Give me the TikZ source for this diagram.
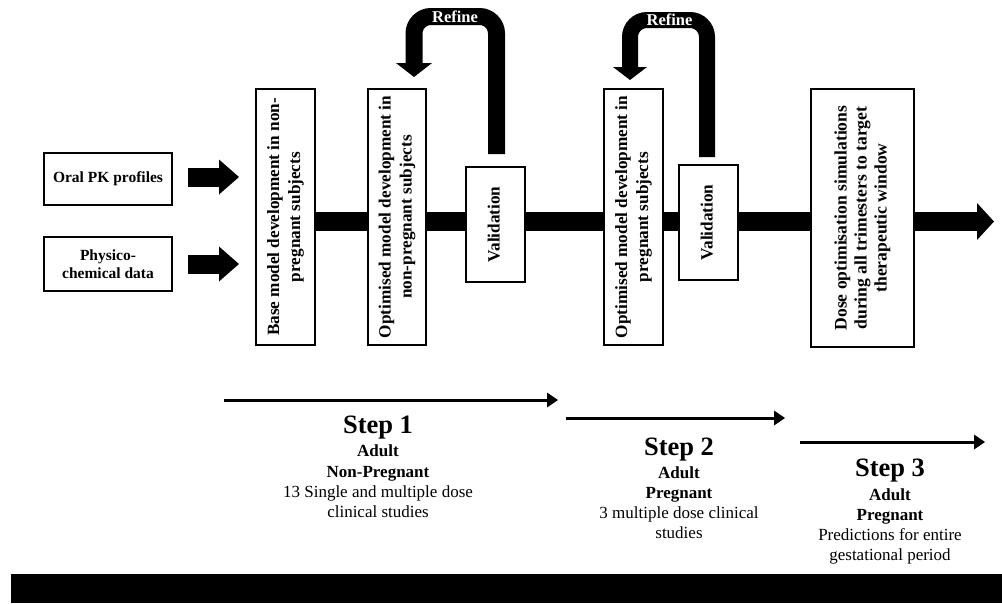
\documentclass[tikz,border=0pt]{standalone}
\usepackage{fontspec}
\setmainfont{Liberation Serif}
\usepackage{graphicx}
\usetikzlibrary{arrows.meta,calc}
\newcommand{\vlines}[1]{\rotatebox{90}{\begin{tabular}{@{}c@{}}#1\end{tabular}}}
\begin{document}
\begin{tikzpicture}[x=1pt,y=-1pt,
  box/.style={draw=black,line width=2pt,fill=white,inner sep=0pt,align=center,
    font=\fontsize{17.2}{21}\selectfont\bfseries},
  inbox/.style={box,minimum width=128pt,font=\fontsize{15.5}{18.5}\selectfont\bfseries},
  fat/.style={line width=19pt,-{Triangle[length=20pt,width=35pt,line width=0pt]}},
  barseg/.style={line width=19pt},
  barend/.style={line width=19pt,-{Triangle[length=17pt,width=37pt,line width=0pt]}},
  refine/.style={line width=17pt,rounded corners=17pt},
  reftext/.style={text=white,font=\fontsize{16.5}{18}\selectfont\bfseries,inner sep=0pt},
  steparrow/.style={line width=3pt,-{Triangle[length=11pt,width=15pt,line width=0pt]}},
  steptitle/.style={anchor=base,inner sep=0pt,font=\fontsize{26.5}{30}\selectfont\bfseries},
  stepbold/.style={anchor=base,inner sep=0pt,font=\fontsize{17}{20}\selectfont\bfseries},
  stepnorm/.style={anchor=base,inner sep=0pt,font=\fontsize{17}{20}\selectfont}]
\useasboundingbox (0,0) rectangle (1002,603);
\fill[white] (0,0) rectangle (1002,603);

% input boxes
\node[inbox,minimum height=52pt] (oral) at (108,179) {Oral PK profiles};
\node[inbox,minimum height=54pt] (phys) at (108,264) {Physico-\\chemical data};

% main boxes
\node[box,minimum width=59pt,minimum height=256pt] (base) at (285.5,217)
  {\vlines{Base model development in non-\\pregnant subjects}};
\node[box,minimum width=58pt,minimum height=256pt] (opt1) at (397,217)
  {\vlines{Optimised model development in\\non-pregnant subjects}};
\node[box,minimum width=59pt,minimum height=115pt] (val1) at (495.5,224.5)
  {\vlines{Validation}};
\node[box,minimum width=59pt,minimum height=256pt] (opt2) at (633.5,217)
  {\vlines{Optimised model development in\\pregnant subjects}};
\node[box,minimum width=59pt,minimum height=115pt] (val2) at (708.5,222.5)
  {\vlines{Validation}};
\node[box,minimum width=103pt,minimum height=258pt,font=\fontsize{17.6}{20}\selectfont\bfseries] (dose) at (862.5,218)
  {\vlines{Dose optimisation simulations\\during all trimesters to target\\therapeutic window}};

% main bar
\coordinate (bary) at (0,221.5);
\coordinate (barend) at (994,221.5);
\draw[barseg] (base.east |- bary) -- (opt1.west |- bary);
\draw[barseg] (opt1.east |- bary) -- (val1.west |- bary);
\draw[barseg] (val1.east |- bary) -- (opt2.west |- bary);
\draw[barseg] (opt2.east |- bary) -- (val2.west |- bary);
\draw[barseg] (val2.east |- bary) -- (dose.west |- bary);
\draw[barend] (dose.east |- bary) -- (barend);

% input arrows
\draw[fat,shorten <=15pt,shorten >=16pt] ([yshift=2pt]oral.east) -- ([yshift=2pt]oral.east -| base.west);
\draw[fat,shorten <=15pt,shorten >=16pt] (phys.east) -- (phys.east -| base.west);

% refine loops
\coordinate (r1top) at (455,16.5);
\coordinate (r1tip) at (414,77);
\draw[refine,-{Triangle[length=14pt,width=36pt,line width=0pt]}]
  ([xshift=1pt,yshift=12pt]val1.north) |- (r1top) -| (r1tip);
\node[reftext] (ref1) at (r1top) {Refine};

\coordinate (r2top) at (669.5,20);
\coordinate (r2tip) at (630,80);
\draw[refine,line width=16pt,-{Triangle[length=13pt,width=34pt,line width=0pt]}]
  ([xshift=-1.5pt,yshift=7pt]val2.north) |- (r2top) -| (r2tip);
\node[reftext] (ref2) at (r2top) {Refine};

% step arrows
\coordinate (a1s) at (224,400);
\coordinate (a1e) at (558,400);
\coordinate (a2s) at (566,418);
\coordinate (a2e) at (785,418);
\coordinate (a3s) at (800,442);
\coordinate (a3e) at (985,442);
\draw[steparrow] (a1s) -- (a1e);
\draw[steparrow] (a2s) -- (a2e);
\draw[steparrow] (a3s) -- (a3e);

% step texts
\node[steptitle] (s1t) at (378,433) {Step 1};
\node[stepbold] (s1a) at (378,456) {Adult};
\node[stepbold] (s1b) at (378,477) {Non-Pregnant};
\node[stepnorm] (s1c) at (378,497.5) {13 Single and multiple dose};
\node[stepnorm] (s1d) at (378,517) {clinical studies};

\node[steptitle] (s2t) at (679,455) {Step 2};
\node[stepbold] (s2a) at (679,478) {Adult};
\node[stepbold] (s2b) at (679,498) {Pregnant};
\node[stepnorm] (s2c) at (679,518) {3 multiple dose clinical};
\node[stepnorm] (s2d) at (679,538) {studies};

\node[steptitle] (s3t) at (890,476) {Step 3};
\node[stepbold] (s3a) at (890,500) {Adult};
\node[stepbold] (s3b) at (890,520) {Pregnant};
\node[stepnorm] (s3c) at (890,540.5) {Predictions for entire};
\node[stepnorm] (s3d) at (890,560) {gestational period};

% bottom band
\fill[black] (11,574) rectangle (1002,603);
\end{tikzpicture}
\end{document}
